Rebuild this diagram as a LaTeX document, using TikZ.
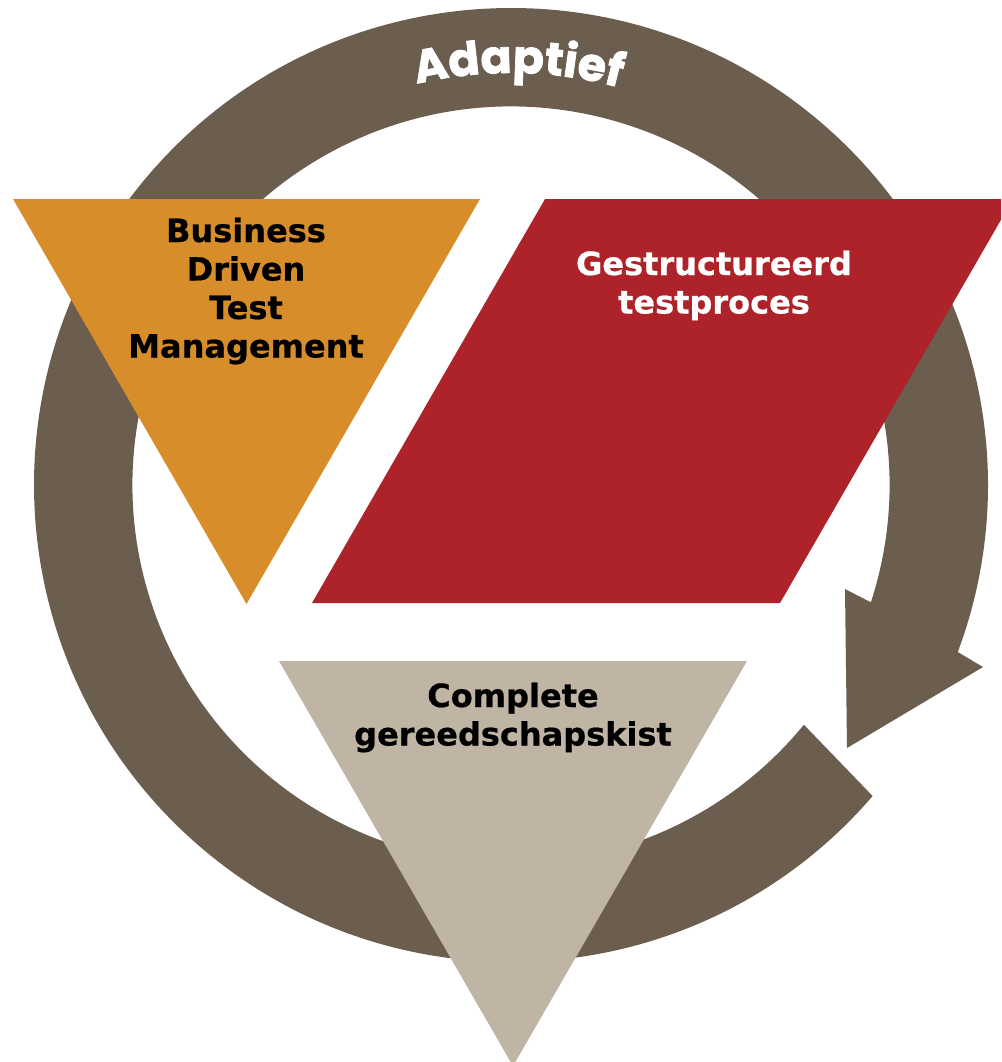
\documentclass[tikz,border=0pt]{standalone}
\usepackage{fontspec}
\setmainfont{DejaVu Sans}[BoldFeatures={FakeBold=0.6}]
\newfontfamily\adfont{Poppins}[BoldFeatures={FakeBold=1.6}]
\usetikzlibrary{calc,decorations.text}
\definecolor{ringbrown}{RGB}{107,94,79}
\definecolor{bdtmorange}{RGB}{214,141,42}
\definecolor{gtpred}{RGB}{174,35,41}
\definecolor{cgkgrey}{RGB}{192,180,164}
\setlength{\tabcolsep}{0pt}
\begin{document}
\begin{tikzpicture}[x=1pt,y=1pt,
  lbl/.style={font=\bfseries\fontsize{32}{38.5}\selectfont, inner sep=0pt, anchor=base}]
\fill[white] (0,0) rectangle (1001,-1062);
\clip (0,0) rectangle (1001,-1062);
\coordinate (c) at (511,-485);
% ring with arrow
\fill[ringbrown] ($(c)+(-40.7:477)$) arc[start angle=-40.7, end angle=-380.5, radius=477]
  -- (983,-667) -- (847,-748) -- (845,-589)
  -- ($(c)+(-378.05:378.5)$) arc[start angle=-378.05, end angle=-39.3, radius=378.5] -- cycle;
% shapes
\fill[bdtmorange] (13,-199) -- (480,-199) -- (246.5,-604) -- cycle;
\fill[gtpred] (545,-199) -- (1013,-199) -- (780,-603) -- (312,-603) -- cycle;
\fill[cgkgrey] (279,-661) -- (747,-661) -- (513,-1066) -- cycle;
% labels
\node[lbl] (bdtm) at (246,-242) {\begin{tabular}[t]{c}Business\\Driven\\Test\\Management\end{tabular}};
\node[lbl, text=white] (gtp) at (714,-275) {\begin{tabular}[t]{c}Gestructureerd\\testproces\end{tabular}};
\node[lbl] (cgk) at (513,-707) {\begin{tabular}[t]{c}Complete\\gereedschapskist\end{tabular}};
% curved title
\path[decorate, decoration={text along path, text align=center, text color=white,
  text={|\adfont\bfseries\fontsize{46}{46}\selectfont|Adaptief}}]
  ($(c)+(119:412)$) arc[start angle=119, end angle=59, radius=412];
\end{tikzpicture}
\end{document}
